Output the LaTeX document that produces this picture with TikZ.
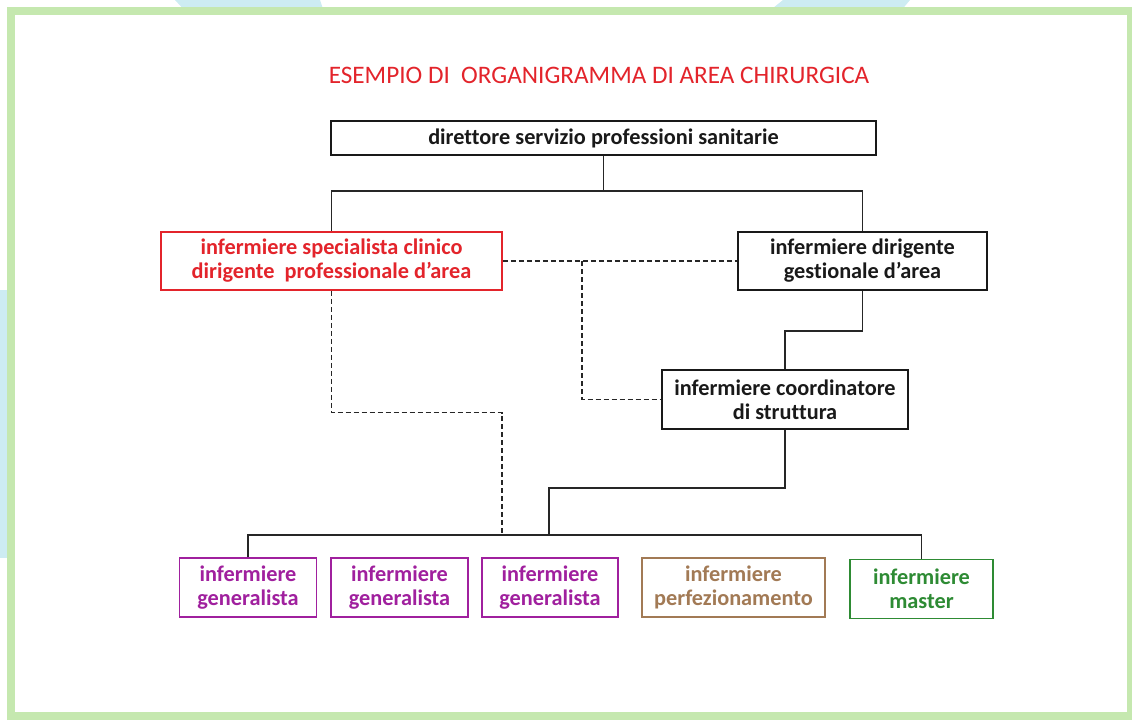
\documentclass[tikz,border=0pt]{standalone}
\usepackage{fontspec}
\setmainfont{Carlito}[Ligatures=NoCommon]
\usetikzlibrary{positioning}
\definecolor{framegreen}{HTML}{C5E8AF}
\definecolor{skyblue}{HTML}{CDECF2}
\definecolor{boxred}{HTML}{E3242B}
\definecolor{boxpurple}{HTML}{A0209E}
\definecolor{boxbrown}{HTML}{A27A55}
\definecolor{boxgreen}{HTML}{2E8B34}
\tikzset{
    orgbox/.style args={#1 #2 #3}{draw=#1, text=#1, line width=1.5pt, fill=white,
        align=center, inner sep=0pt, minimum width=#2, minimum height=#3,
        font=\fontsize{22.3}{24}\selectfont\bfseries},
    orgbox/.default={black 136pt 59pt},
    solidlink/.style={draw=black!85, line width=1.8pt},
    dashlink/.style={draw=black!85, line width=1.4pt, dash pattern=on 5pt off 3pt}
}

\begin{document}
\begin{tikzpicture}[x=1pt, y=-1pt]
    \useasboundingbox (0,0) rectangle (1132,720);
    % background shapes
    \fill[skyblue] (175,0) -- (320,0) -- (324,12) -- (186,12) -- cycle;
    \fill[skyblue] (783,0) -- (910,0) -- (900,12) -- (768,12) -- cycle;
    \fill[skyblue] (0,290) rectangle (12,558);
    \draw[framegreen, line width=8pt, fill=white] (11,11) rectangle (1131,716);
    % title
    \node[text=boxred, font=\fontsize{25.2}{28}\selectfont] (title) at (599,75)
        {ESEMPIO DI\ \ ORGANIGRAMMA DI AREA CHIRURGICA};
    % boxes
    \node[orgbox={black!90 545pt 34pt}] (dir) at (603.5,138) {direttore servizio professioni sanitarie};
    \node[orgbox={boxred 341pt 58pt}] (spec) at (331.5,261) {infermiere specialista clinico\\dirigente\ \ professionale d’area};
    \node[orgbox={black!90 249pt 58pt}] (gest) at (862.5,261) {infermiere dirigente\\gestionale d’area};
    \node[orgbox={black!90 246pt 59pt}] (coord) at (785,399.5) {infermiere coordinatore\\di struttura};
    \node[orgbox={boxpurple 137pt 59pt}] (gen1) at (248,587.5) {infermiere\\generalista};
    \node[orgbox={boxpurple 137pt 59pt}] (gen2) at (399.5,587.5) {infermiere\\generalista};
    \node[orgbox={boxpurple 136pt 59pt}] (gen3) at (550,587.5) {infermiere\\generalista};
    \node[orgbox={boxbrown 183pt 59pt}] (perf) at (733.5,587.5) {infermiere\\perfezionamento};
    \node[orgbox={boxgreen 143pt 59pt}] (mast) at (921.5,589) {infermiere\\master};
    % junctions
    \coordinate (busL) at (248,535);
    \coordinate (busR) at (921.5,535);
    \coordinate (busM) at (549,535);
    \coordinate (busD) at (502,535);
    \coordinate (dj) at (582,261);
    % hierarchy
    \draw[solidlink] (dir.south) -- ++(0,35) -| (spec.north);
    \draw[solidlink] (dir.south) -- ++(0,35) -| (gest.north);
    \draw[solidlink] (gest.south) -- ++(0,40) -| (coord.north);
    \draw[solidlink] (coord.south) -- ++(0,58) -| (busM);
    \draw[solidlink] (gen1.north) -- (busL) -- (busR) -- (mast.north);
    % functional links
    \draw[dashlink] (spec.east) -- (gest.west);
    \draw[dashlink] (dj) |- (coord.west);
    \draw[dashlink] (spec.south) -- ++(0,122) -| (busD);
\end{tikzpicture}
\end{document}
